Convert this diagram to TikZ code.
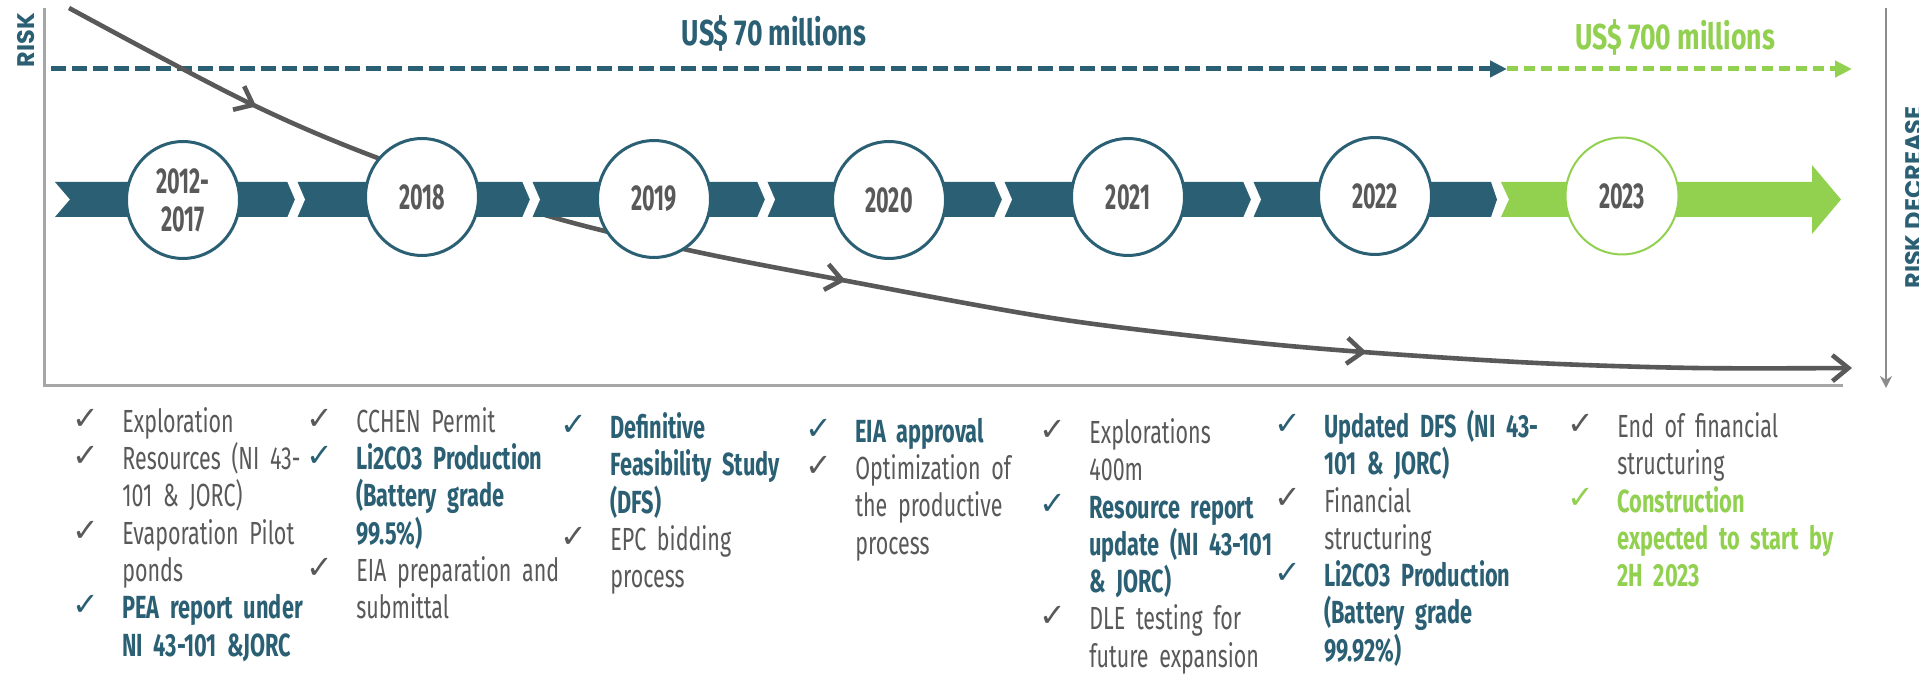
\documentclass[tikz,border=0pt]{standalone}
\usepackage{fontspec}
\usetikzlibrary{arrows.meta,shapes.geometric,decorations.markings}
\newfontfamily\condR{Fira Sans}[FakeStretch=0.67]
\newfontfamily\condB{Fira Sans}[FakeStretch=0.68]
\newfontfamily\condT{Fira Sans}[FakeStretch=0.74]
\newfontfamily\condY{Fira Sans}[FakeStretch=0.6]
\newfontfamily\ckfont{DejaVu Sans}
\newfontfamily\geo{Poppins}
\definecolor{myteal}{HTML}{2B6074}
\definecolor{mygreen}{HTML}{92D050}
\definecolor{mygray}{HTML}{595959}
\definecolor{axisgray}{HTML}{A6A6A6}
\definecolor{rgray}{HTML}{8C8C8C}
\newcommand\colsetup{\lineskiplimit=-50pt\relax\parskip=0pt\relax\parindent=0pt\relax\hyphenpenalty=10000\relax\exhyphenpenalty=10000\relax\rule{0pt}{14pt}}
\newcommand\ck[1]{\makebox[24.75pt][l]{\raisebox{1.5pt}{\ckfont\fontsize{16}{16}\selectfont\color{#1}\char"2713\relax}}}
\newcommand\ind{\hspace*{24.75pt}}
\newcommand\G[1]{{\condR\color{mygray}#1}}
\newcommand\T[1]{{\condB\bfseries\color{myteal}#1}}
\newcommand\N[1]{{\condB\bfseries\color{mygreen}#1}}
\begin{document}
\begin{tikzpicture}[x=0.5pt,y=-0.5pt,
  yr/.style={ellipse, draw=myteal, line width=1.5pt, fill=white, minimum width=56.5pt, minimum height=58.5pt, inner sep=0pt, align=center, text=mygray, font=\condY\bfseries\fontsize{18}{19}\selectfont},
  ttl/.style={inner sep=0pt, font=\condT\bfseries\fontsize{18}{20}\selectfont},
  col/.style={anchor=north west, inner sep=0pt, text width=150pt, align=left, font=\fontsize{16}{18.65}\selectfont},
  axisline/.style={draw=axisgray, line width=1.5pt},
  curveline/.style={draw=mygray, line width=2.3pt},
  barbtip/.tip={Straight Barb[length=8pt,width=13pt]},
  vlabel/.style={rotate=90, anchor=north, inner sep=0pt, text=myteal, font=\geo\bfseries\fontsize{12}{14}\selectfont}
]
\useasboundingbox (0,0) rectangle (1919,679);
\fill[white] (0,0) rectangle (1919,679);

% axes
\coordinate (ax0) at (44,8);
\coordinate (ax1) at (44,386);
\coordinate (ax2) at (1843,386);
\draw[axisline] (ax0) -- (ax1) -- (ax2);
\coordinate (rx0) at (1886,8);
\coordinate (rx1) at (1886,388);
\draw[draw=rgray, line width=1.2pt, -{Stealth[length=6pt,width=6pt]}] (rx0) -- (rx1);

\node[vlabel] (risk) at (17,40) {RISK};
\node[vlabel] (riskd) at (1905,197.5) {RISK DECREASE};

% money lines
\node[ttl, text=myteal] (t70) at (774,33) {US\$ 70 millions};
\node[ttl, text=mygreen] (t700) at (1675,37) {US\$ 700 millions};
\coordinate (d0) at (51,69);
\coordinate (d1) at (1507,69);
\coordinate (d2) at (1852,69);
\draw[myteal, line width=2.5pt, dash pattern=on 7.5pt off 3pt, -{Triangle[length=8.5pt,width=8pt]}] (d0) -- (d1);
\draw[mygreen, line width=2.5pt, dash pattern=on 5.5pt off 3pt, -{Triangle[length=8.5pt,width=8pt]}] (d1) -- (d2);

% risk curve
\draw[curveline, -barbtip,
  postaction={decorate},
  decoration={markings,
    mark=at position 0.115 with {\arrow{barbtip}},
    mark=at position 0.45 with {\arrow{barbtip}},
    mark=at position 0.736 with {\arrow{barbtip}}}]
  plot[smooth, tension=0.55] coordinates {(69,8) (243,100) (375,157) (545,215) (688,250) (842,280) (1052,318) (1230,340) (1363,352) (1537,363) (1695,368) (1852,368)};

% band
\fill[myteal] (55,182) -- (1491,182) -- (1497,199.5) -- (1491,217) -- (55,217) -- (70,199.5) -- cycle;
\foreach \c in {287,522,757,994,1243}
  \fill[white] (\c,181) -- (\c+10,181) -- (\c+18,199.5) -- (\c+10,218) -- (\c,218) -- (\c+8,199.5) -- cycle;
\fill[mygreen] (1501,182) -- (1812,182) -- (1812,165) -- (1841,199.5) -- (1812,234) -- (1812,217) -- (1501,217) -- (1509,199.5) -- cycle;

% years
\node[yr] (y1) at (183,200) {2012-\\2017};
\node[yr] (y2) at (422,197) {2018};
\node[yr] (y3) at (654,199) {2019};
\node[yr] (y4) at (889,200) {2020};
\node[yr] (y5) at (1128,197) {2021};
\node[yr] (y6) at (1375,196) {2022};
\node[yr, draw=mygreen, line width=1pt] (y7) at (1622,196) {2023};

% columns
\node[col] (c1) at (72.5,404) {\colsetup
\ck{mygray}\G{Exploration}\\
\ck{mygray}\G{Resources (NI 43-}\\
\ind\G{101 \& JORC)}\\
\ck{mygray}\G{Evaporation Pilot}\\
\ind\G{ponds}\\
\ck{myteal}\T{PEA report under}\\
\ind\T{NI 43-101 \&JORC}};
\node[col] (c2) at (306.5,404) {\colsetup
\ck{mygray}\G{CCHEN Permit}\\
\ck{myteal}\T{Li2CO3 Production}\\
\ind\T{(Battery grade}\\
\ind\T{99.5\%)}\\
\ck{mygray}\G{EIA preparation and}\\
\ind\G{submittal}};
\node[col] (c3) at (560.5,410) {\colsetup
\ck{myteal}\T{Definitive}\\
\ind\T{Feasibility Study}\\
\ind\T{(DFS)}\\
\ck{mygray}\G{EPC bidding}\\
\ind\G{process}};
\node[col] (c4) at (805.5,414) {\colsetup
\ck{myteal}\T{EIA approval}\\
\ck{mygray}\G{Optimization of}\\
\ind\G{the productive}\\
\ind\G{process}};
\node[col] (c5) at (1039.5,415) {\colsetup
\ck{mygray}\G{Explorations}\\
\ind\G{400m}\\
\ck{myteal}\T{Resource report}\\
\ind\T{update (NI 43-101}\\
\ind\T{\& JORC)}\\
\ck{mygray}\G{DLE testing for}\\
\ind\G{future expansion}};
\node[col] (c6) at (1274.5,409) {\colsetup
\ck{myteal}\T{Updated DFS (NI 43-}\\
\ind\T{101 \& JORC)}\\
\ck{mygray}\G{Financial}\\
\ind\G{structuring}\\
\ck{myteal}\T{Li2CO3 Production}\\
\ind\T{(Battery grade}\\
\ind\T{99.92\%)}};
\node[col] (c7) at (1567.5,409) {\colsetup
\ck{mygray}\G{End of financial}\\
\ind\G{structuring}\\
\ck{mygreen}\N{Construction}\\
\ind\N{expected to start by}\\
\ind\N{2H 2023}};
\end{tikzpicture}
\end{document}
